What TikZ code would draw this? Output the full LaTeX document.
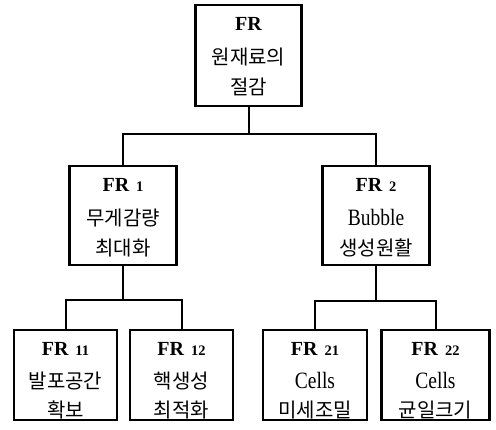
\documentclass[tikz,border=0pt]{standalone}
\usepackage{graphicx}
\usepackage{fontspec}
\setmainfont{Liberation Serif}
\newfontfamily\kr{Noto Sans CJK KR}
% "FR n" heading line and the tall Latin words
\newcommand{\frlabel}[1]{{\bfseries\fontsize{20}{30}\selectfont FR}\hspace{7pt}{\bfseries\fontsize{14.5}{30}\selectfont #1}}
\newcommand{\tallword}[1]{\scalebox{1}[1.2]{\fontsize{19.5}{30}\selectfont #1}}
\begin{document}
\begin{tikzpicture}[x=1pt,y=1pt,
  frbox/.style={draw, line width=2.8pt, inner sep=0pt},
  frtext/.style={anchor=north, inner sep=0pt, align=center,
    font=\fontsize{20}{29.5}\selectfont},
  link/.style={line width=2pt}]
\useasboundingbox (0,0) rectangle (496,430);
% boxes of the functional requirement hierarchy
\node[frbox, minimum width=106, minimum height=101] (fr) at (248.5,374.5) {};
\node[frbox, minimum width=107, minimum height=99] (fr1) at (123,214.5) {};
\node[frbox, minimum width=107, minimum height=99] (fr2) at (376,214.5) {};
\node[frbox, minimum width=103, minimum height=90] (fr11) at (65.5,55) {};
\node[frbox, minimum width=103, minimum height=90] (fr12) at (181.5,55) {};
\node[frbox, minimum width=104, minimum height=90] (fr21) at (315,55) {};
\node[frbox, minimum width=108, minimum height=90] (fr22) at (435.5,55) {};
% box texts
\node[frtext] (fr-t) at ([yshift=-14]fr.north)
  {{\bfseries\fontsize{20}{30}\selectfont FR}\\[4.5pt] {\kr 원재료의}\\ {\kr 절감}};
\node[frtext] (fr1-t) at ([yshift=-14]fr1.north)
  {\frlabel{1}\\[4.5pt] {\kr 무게감량}\\ {\kr 최대화}};
\node[frtext] (fr2-t) at ([yshift=-14]fr2.north)
  {\frlabel{2}\\[4.5pt] \tallword{Bubble}\\ {\kr 생성원활}};
\node[frtext] (fr11-t) at ([yshift=-14]fr11.north)
  {\frlabel{11}\\[3pt] {\kr 발포공간}\\ {\kr 확보}};
\node[frtext] (fr12-t) at ([yshift=-14]fr12.north)
  {\frlabel{12}\\[3pt] {\kr 핵생성}\\ {\kr 최적화}};
\node[frtext] (fr21-t) at ([yshift=-14]fr21.north)
  {\frlabel{21}\\[3pt] \tallword{Cells}\\ {\kr 미세조밀}};
\node[frtext] (fr22-t) at ([yshift=-14]fr22.north)
  {\frlabel{22}\\[3pt] \tallword{Cells}\\ {\kr 균일크기}};
% tree connectors
\draw[link] (fr.south) -- ++(0,-27) coordinate (j0);
\draw[link] (fr1.north) |- (j0) -| (fr2.north);
\draw[link] (fr1.south) -- ++(0,-34) coordinate (j1);
\draw[link] (fr11.north) |- (j1) -| (fr12.north);
\draw[link] (fr2.south) -- ++(0,-35) coordinate (j2);
\draw[link] (fr21.north) |- (j2) -| (fr22.north);
\end{tikzpicture}
\end{document}
